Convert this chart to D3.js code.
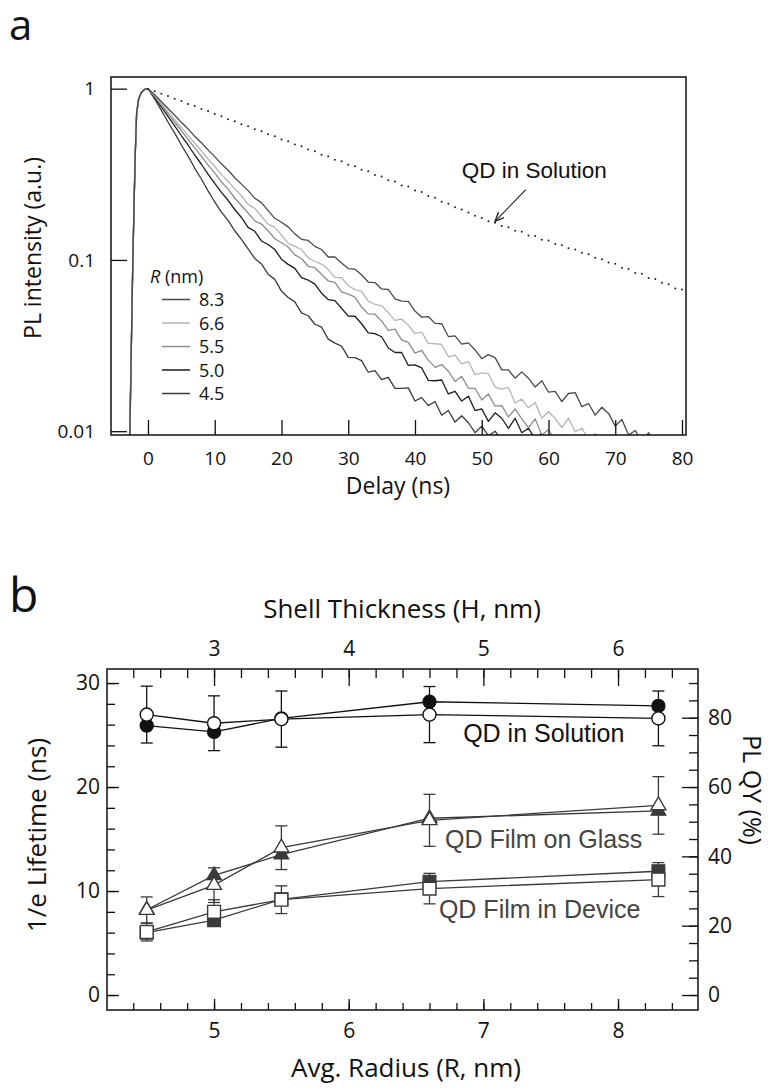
<!DOCTYPE html>
<html>
<head>
<meta charset="utf-8">
<script src="https://cdn.jsdelivr.net/npm/d3@7"></script>
<style>
  body { margin:0; background:#fff; }
  svg text { font-family: 'Open Sans', Lato, sans-serif; fill:#111; }
  .arial { font-family: 'Liberation Sans', Arial, sans-serif; }
  .axis path { display:none; }
  .axis line { stroke:#111; stroke-width:1.3; }
  .frame { fill:none; stroke:#111; stroke-width:1.5; }
</style>
</head>
<body>
<script>
// ---------- panel a : PL decay traces ----------
var riseT = [-2.9, -2.7, -2.5, -2.3, -2.1, -1.9, -1.7, -1.4, -1.0, -0.6, -0.3];
var riseI = [0.007, 0.0105, 0.03, 0.085, 0.2, 0.42, 0.72, 0.87, 0.95, 0.985, 0.997];

// one value per ns, starting at 0 ns
var decay83 = [1, .923, .842, .766, .699, .636, .582, .527, .483, .439, .401, .364, .334, .302, .277,
  .254, .229, .216, .194, .175, .166, .156, .142, .132, .130, .120, .115, .104, .104, .0959, .0890, .0883,
  .0819, .0743, .0738, .0677, .0672, .0593, .0575, .0573, .0503, .0463, .0467, .0426, .0424, .0357, .0360,
  .0322, .0328, .0298, .0265, .0280, .0269, .0228, .0228, .0204, .0222, .0204, .0181, .0197, .0169, .0171,
  .0149, .0166, .0168, .0139, .0145, .0124, .0138, .0127, .0107, .0117, .0095, .0101, .0086, .0098, .0083,
  .0093, .0080];
var decay66 = [1, .912, .818, .734, .662, .593, .536, .480, .434, .388, .351, .316, .288, .259, .237,
  .211, .200, .180, .162, .155, .140, .125, .120, .115, .103, .0979, .0946, .0878, .0791, .0787, .0709,
  .0671, .0656, .0575, .0551, .0540, .0492, .0444, .0452, .0416, .0372, .0379, .0326, .0324, .0321, .0272,
  .0278, .0247, .0255, .0214, .0219, .0217, .0181, .0176, .0180, .0146, .0154, .0137, .0147, .0119, .0130,
  .0119, .0105, .0119, .0099, .0104, .0089, .0097, .0085];
var decay55 = [1, .902, .805, .715, .639, .568, .508, .451, .404, .358, .321, .286, .259, .230, .208,
  .188, .169, .162, .148, .133, .126, .119, .107, .102, .0918, .0901, .0824, .0754, .0740, .0650, .0631,
  .0606, .0531, .0484, .0482, .0439, .0388, .0394, .0341, .0330, .0286, .0296, .0260, .0236, .0245, .0224,
  .0195, .0209, .0178, .0178, .0152, .0165, .0140, .0141, .0121, .0135, .0118, .0105, .0118, .0095, .0102,
  .0088, .0096];
var decay50 = [1, .891, .784, .688, .606, .531, .469, .410, .362, .317, .280, .248, .223, .197, .177,
  .155, .147, .129, .123, .115, .101, .0942, .0893, .0789, .0763, .0722, .0639, .0587, .0579, .0522, .0470,
  .0469, .0424, .0375, .0371, .0356, .0306, .0288, .0288, .0242, .0244, .0234, .0198, .0197, .0199, .0165,
  .0171, .0150, .0160, .0132, .0135, .0114, .0128, .0119, .0104, .0119, .0098, .0104, .0090, .0097];
var decay45 = [1, .871, .747, .639, .550, .469, .404, .344, .297, .253, .218, .190, .170, .148, .132,
  .116, .102, .0948, .0826, .0770, .0658, .0603, .0569, .0491, .0472, .0421, .0405, .0345, .0327, .0314,
  .0270, .0269, .0258, .0221, .0226, .0200, .0206, .0178, .0178, .0179, .0150, .0157, .0141, .0149, .0124,
  .0132, .0113, .0123, .0112, .0098, .0107, .0094, .0100, .0088];
var solution = [1, .966, .934, .906, .873, .846, .814, .791, .760, .740, .711, .690, .664, .646, .620,
  .604, .579, .565, .541, .528, .505, .493, .472, .461, .441, .431, .411, .403, .384, .377, .359, .352,
  .336, .329, .313, .307, .292, .287, .272, .268, .254, .249, .236, .231, .219, .213, .203, .197, .189,
  .181, .176, .168, .165, .158, .155, .148, .146, .139, .138, .131, .130, .124, .122, .117, .115, .110,
  .108, .103, .101, .0965, .0950, .0900, .0885, .0840, .0830, .0785, .0775, .0735, .0722, .0680, .0672];

var curveNames = ["8.3", "6.6", "5.5", "5.0", "4.5"];
var curveData = [decay83, decay66, decay55, decay50, decay45];
var curveColors = ["#4a4a4a", "#b5b5b5", "#8c8c8c", "#1c1c1c", "#3c3c3c"];

var delayTicks = [0, 10, 20, 30, 40, 50, 60, 70, 80];
var intensityTicks = [0.01, 0.1, 1];

// ---------- panel b : lifetimes and QY vs radius ----------
var radius = [4.5, 5.0, 5.5, 6.6, 8.3];
var solLifetime = [25.9, 25.3, 26.6, 28.2, 27.8];
var solQY = [80.9, 78.4, 79.6, 80.9, 79.8];
var solQYErr = [8.2, 7.9, 8.1, 8.1, 7.9];
var glassLifetime = [8.2, 11.5, 13.5, 17.0, 17.7];
var glassQY = [24.5, 31.7, 42.5, 50.4, 54.7];
var glassQYErr = [3.8, 5.0, 6.3, 7.5, 8.3];
var deviceLifetime = [6.0, 7.2, 9.2, 10.9, 11.9];
var deviceQY = [18.2, 24.0, 27.5, 30.7, 33.3];
var deviceQYErr = [2.6, 3.5, 4.0, 4.4, 4.9];

var radiusTicks = [5, 6, 7, 8];
var shellTicks = [3, 4, 5, 6];
var lifetimeTicks = [0, 10, 20, 30];
var qyTicks = [0, 20, 40, 60, 80];

var W = 770, H = 1091;
var svg = d3.select("body").append("svg").attr("width", W).attr("height", H);
var defs = svg.append("defs");

// ================= panel a =================
var xA = d3.scaleLinear().domain([-5.54, 80.6]).range([111, 686]);
var yA = d3.scaleLog().domain([0.0095, 1.17]).range([435, 77]);

svg.append("text").attr("x", 9).attr("y", 40).style("font-size", "42px").text("a");

defs.append("clipPath").attr("id", "clipA")
  .append("rect").attr("x", 111).attr("y", 77).attr("width", 575).attr("height", 358);

var gA = svg.append("g");
var line = d3.line().x(d => xA(d[0])).y(d => yA(d[1]));

var traces = curveData.map(function(arr, k) {
  var pts = riseT.map((t, i) => [t, riseI[i]]);
  arr.forEach((v, i) => pts.push([i, v]));
  return {name: curveNames[k], color: curveColors[k], pts: pts};
});

var plotA = gA.append("g").attr("clip-path", "url(#clipA)");
plotA.selectAll("path.trace")
  .data(traces.slice().reverse())
  .enter().append("path")
    .attr("class", "trace")
    .attr("d", d => line(d.pts))
    .style("fill", "none")
    .style("stroke", d => d.color)
    .style("stroke-width", 1.3)
    .style("stroke-linejoin", "round");

plotA.selectAll("circle.sol")
  .data(solution)
  .enter().append("circle")
    .attr("class", "sol")
    .attr("cx", (d, i) => xA(i))
    .attr("cy", d => yA(d))
    .attr("r", 1)
    .style("fill", "#222");

gA.append("g").attr("class", "axis")
  .attr("transform", "translate(0,435)")
  .call(d3.axisBottom(xA).tickValues(delayTicks).tickSize(-15).tickPadding(17).tickFormat(d3.format("d")))
  .selectAll("text").style("font-size", "19px").attr("dy", "0.71em");

gA.append("g").attr("class", "axis")
  .attr("transform", "translate(111,0)")
  .call(d3.axisLeft(yA).tickValues(intensityTicks).tickSize(-16).tickPadding(16).tickFormat(d => String(d)))
  .selectAll("text").style("font-size", "19px");

gA.append("rect").attr("class", "frame")
  .attr("x", 111).attr("y", 77).attr("width", 575).attr("height", 358);

gA.append("text")
  .attr("transform", "translate(41,157) rotate(-90)")
  .attr("text-anchor", "end")
  .style("font-size", "23px")
  .text("PL intensity (a.u.)");

gA.append("text")
  .attr("x", 398).attr("y", 494)
  .attr("text-anchor", "middle")
  .style("font-size", "23px")
  .text("Delay (ns)");

// annotation
gA.append("text").attr("class", "arial")
  .attr("x", xA(47)).attr("y", yA(0.30))
  .style("font-size", "22.5px")
  .text("QD in Solution");

defs.append("marker")
  .attr("id", "arrow").attr("viewBox", "0 0 10 10")
  .attr("refX", 9).attr("refY", 5)
  .attr("markerWidth", 9).attr("markerHeight", 9)
  .attr("orient", "auto-start-reverse")
  .append("path").attr("d", "M0,1 L9,5 L0,9")
  .style("fill", "none").style("stroke", "#222").style("stroke-width", 1.4);

gA.append("line")
  .attr("x1", xA(56.6)).attr("y1", yA(0.257))
  .attr("x2", xA(52)).attr("y2", yA(0.168))
  .style("stroke", "#222").style("stroke-width", 1.1)
  .attr("marker-end", "url(#arrow)");

// legend
var leg = gA.append("g").attr("transform", "translate(150,283)");
var lt = leg.append("text").style("font-size", "18px");
lt.append("tspan").style("font-style", "italic").text("R");
lt.append("tspan").text(" (nm)");
var rows = leg.selectAll("g.row").data(traces).enter().append("g")
  .attr("class", "row")
  .attr("transform", (d, i) => "translate(0," + (16.5 + i * 23.5) + ")");
rows.append("line").attr("x1", 12).attr("x2", 40)
  .style("stroke", d => d.color).style("stroke-width", 1.5);
rows.append("text").attr("x", 49).attr("y", 6.5).style("font-size", "18px").text(d => d.name);

// ================= panel b =================
var xB = d3.scaleLinear().domain([4.205, 8.594]).range([107, 698]);
var xH = d3.scaleLinear().domain([2.205, 6.594]).range([107, 698]);
var yL = d3.scaleLinear().domain([-1.44, 31.35]).range([1010, 669]);
var yR = d3.scaleLinear().domain([-4.32, 94.05]).range([1010, 669]);

svg.append("text").attr("x", 9).attr("y", 612).style("font-size", "48px").text("b");

var gB = svg.append("g");

function minor(from, to, step) {
  var out = [];
  for (var v = from; v <= to + 1e-9; v += step) out.push(+v.toFixed(3));
  return out;
}

// bottom axis (radius)
gB.append("g").attr("class", "axis").attr("transform", "translate(0,1010)")
  .call(d3.axisBottom(xB).tickValues(minor(4.4, 8.4, 0.2)).tickSize(-7).tickFormat(""));
gB.append("g").attr("class", "axis").attr("transform", "translate(0,1010)")
  .call(d3.axisBottom(xB).tickValues(radiusTicks).tickSize(-11).tickPadding(13).tickFormat(d3.format("d")))
  .selectAll("text").style("font-size", "21px");

// top axis (shell thickness)
gB.append("g").attr("class", "axis").attr("transform", "translate(0,669)")
  .call(d3.axisTop(xH).tickValues(minor(2.4, 6.4, 0.2)).tickSize(-9).tickFormat(""));
gB.append("g").attr("class", "axis").attr("transform", "translate(0,669)")
  .call(d3.axisTop(xH).tickValues(shellTicks).tickSize(-17).tickPadding(13).tickFormat(d3.format("d")))
  .selectAll("text").style("font-size", "21px");

// left axis (lifetime)
gB.append("g").attr("class", "axis").attr("transform", "translate(107,0)")
  .call(d3.axisLeft(yL).tickValues(minor(0, 30, 2)).tickSize(-8).tickFormat(""));
gB.append("g").attr("class", "axis").attr("transform", "translate(107,0)")
  .call(d3.axisLeft(yL).tickValues(lifetimeTicks).tickSize(-12).tickPadding(7).tickFormat(d3.format("d")))
  .selectAll("text").style("font-size", "21px");

// right axis (QY)
gB.append("g").attr("class", "axis").attr("transform", "translate(698,0)")
  .call(d3.axisRight(yR).tickValues(minor(0, 90, 5)).tickSize(-9).tickFormat(""));
gB.append("g").attr("class", "axis").attr("transform", "translate(698,0)")
  .call(d3.axisRight(yR).tickValues(qyTicks).tickSize(-16).tickPadding(10).tickFormat(d3.format("d")))
  .selectAll("text").style("font-size", "21px");

gB.append("rect").attr("class", "frame")
  .attr("x", 107).attr("y", 669).attr("width", 591).attr("height", 341);

gB.append("text").attr("x", 402).attr("y", 618).attr("text-anchor", "middle")
  .style("font-size", "26px").text("Shell Thickness (H, nm)");
gB.append("text").attr("x", 406).attr("y", 1077).attr("text-anchor", "middle")
  .style("font-size", "26px").text("Avg. Radius (R, nm)");
gB.append("text").attr("transform", "translate(46,835) rotate(-90)").attr("text-anchor", "middle")
  .style("font-size", "26px").text("1/e Lifetime (ns)");
gB.append("text").attr("transform", "translate(743,790) rotate(90)").attr("text-anchor", "middle")
  .style("font-size", "25px").text("PL QY (%)");

var series = [
  {life: solLifetime, qy: solQY, err: solQYErr, shape: d3.symbolCircle, size: 135, color: "#111"},
  {life: glassLifetime, qy: glassQY, err: glassQYErr, shape: d3.symbolTriangle, size: 95, color: "#3a3a3a"},
  {life: deviceLifetime, qy: deviceQY, err: deviceQYErr, shape: d3.symbolSquare, size: 165, color: "#3a3a3a"}
];

var lineL = d3.line().x(d => xB(d.r)).y(d => yL(d.v));
var lineR = d3.line().x(d => xB(d.r)).y(d => yR(d.v));

series.forEach(function(s) {
  var filled = radius.map((r, i) => ({r: r, v: s.life[i]}));
  var open = radius.map((r, i) => ({r: r, v: s.qy[i], e: s.err[i]}));
  var g = gB.append("g");

  g.append("path").attr("d", lineL(filled))
    .style("fill", "none").style("stroke", s.color).style("stroke-width", 1.3);
  g.append("path").attr("d", lineR(open))
    .style("fill", "none").style("stroke", s.color).style("stroke-width", 1.3);

  var eb = g.selectAll("g.err").data(open).enter().append("g").attr("class", "err");
  eb.append("line")
    .attr("x1", d => xB(d.r)).attr("x2", d => xB(d.r))
    .attr("y1", d => yR(d.v - d.e)).attr("y2", d => yR(d.v + d.e));
  eb.append("line")
    .attr("x1", d => xB(d.r) - 6).attr("x2", d => xB(d.r) + 6)
    .attr("y1", d => yR(d.v + d.e)).attr("y2", d => yR(d.v + d.e));
  eb.append("line")
    .attr("x1", d => xB(d.r) - 6).attr("x2", d => xB(d.r) + 6)
    .attr("y1", d => yR(d.v - d.e)).attr("y2", d => yR(d.v - d.e));
  eb.selectAll("line").style("stroke", s.color).style("stroke-width", 1.3);

  var sym = d3.symbol().type(s.shape).size(s.size);
  g.selectAll("path.filled").data(filled).enter().append("path")
    .attr("class", "filled")
    .attr("transform", d => "translate(" + xB(d.r) + "," + yL(d.v) + ")")
    .attr("d", sym)
    .style("fill", s.color).style("stroke", s.color).style("stroke-width", 1.2);
  g.selectAll("path.open").data(open).enter().append("path")
    .attr("class", "open")
    .attr("transform", d => "translate(" + xB(d.r) + "," + yR(d.v) + ")")
    .attr("d", sym)
    .style("fill", "#fff").style("stroke", s.color).style("stroke-width", 1.4);
});

gB.append("text").attr("class", "arial")
  .attr("x", xB(6.85)).attr("y", yL(24.3))
  .style("font-size", "25px").text("QD in Solution");
gB.append("text").attr("class", "arial")
  .attr("x", xB(6.715)).attr("y", yL(14.1))
  .style("font-size", "25px").style("fill", "#444").text("QD Film on Glass");
gB.append("text").attr("class", "arial")
  .attr("x", xB(6.67)).attr("y", yL(7.4))
  .style("font-size", "25px").style("fill", "#444").text("QD Film in Device");
</script>
</body>
</html>
